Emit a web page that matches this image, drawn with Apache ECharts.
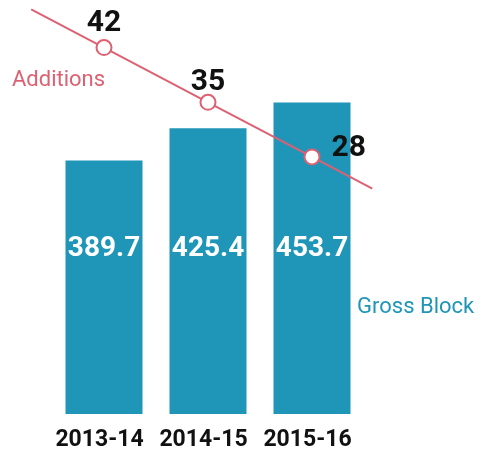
<!DOCTYPE html>
<html><head><meta charset="utf-8">
<script src="https://cdn.jsdelivr.net/npm/echarts@6/dist/echarts.min.js"></script>
<style>html,body{margin:0;padding:0;background:#fff}#c{width:480px;height:454px}</style>
</head><body><div id="c"></div>
<script>
const categories = ['2013-14', '2014-15', '2015-16'];
const grossBlock = [389.7, 425.4, 453.7];
const additions = [42, 35, 28];
const barName = 'Gross Block';
const lineName = 'Additions';

const BAR_COLOR = '#1f96b8';
const LINE_COLOR = '#dd6172';
const FONT = 'Roboto';

// extension of the additions line beyond first/last points (in category units)
const extLeft = 0.7, extRight = 0.58;
const n = additions.length;
const leftVal = additions[0] + (additions[0] - additions[1]) * extLeft;
const rightVal = additions[n - 1] + (additions[n - 1] - additions[n - 2]) * extRight;
const extData = [[-extLeft, leftVal], [0, additions[0]], '-', [n - 1, additions[n - 1]], [n - 1 + extRight, rightVal]];

const lineLabelCfg = [
  { position: 'top', distance: 1 },
  { position: 'top', distance: -4 },
  { position: 'right', distance: 11, offset: [0, -8] }
];

// bar grid: left 52, width 312 (3 bands of 104). line grid spans full width with matching index scale
const GL = 52, BAND = 104, W = 480;
const lineXMin = -0.5 - GL / BAND;
const lineXMax = lineXMin + W / BAND;

const chart = echarts.init(document.getElementById('c'));
chart.setOption({
  animation: false,
  grid: [
    { left: GL, width: BAND * n, top: 14, bottom: 40 },
    { left: 0, right: 0, top: 14, bottom: 40 }
  ],
  xAxis: [
    { type: 'category', gridIndex: 0, data: categories, axisLine: { show: false }, axisTick: { show: false },
      axisLabel: { interval: 0, color: '#111', fontFamily: FONT, fontWeight: 'bold', fontSize: 23, margin: 15,
        padding: [0, 9, 0, 0] } },
    { type: 'value', gridIndex: 1, min: lineXMin, max: lineXMax, show: false }
  ],
  yAxis: [
    { type: 'value', gridIndex: 0, min: 110, max: 551.5, show: false },
    { type: 'value', gridIndex: 1, min: -4.9, max: 46.3, show: false }
  ],
  series: [
    { name: barName, type: 'bar', data: grossBlock, barWidth: 77, itemStyle: { color: BAR_COLOR },
      label: { show: true, position: 'insideBottom', distance: 165, verticalAlign: 'middle',
        color: '#fff', fontFamily: FONT, fontWeight: 'bold', fontSize: 28 } },
    { name: lineName + ' ext', type: 'line', xAxisIndex: 1, yAxisIndex: 1, data: extData,
      symbol: 'none', clip: false, connectNulls: false, lineStyle: { color: LINE_COLOR, width: 2 }, z: 3 },
    { name: lineName, type: 'line', xAxisIndex: 1, yAxisIndex: 1, clip: false, z: 4,
      data: additions.map((v, i) => ({ value: [i, v], label: lineLabelCfg[i] })),
      symbol: 'circle', symbolSize: 15,
      itemStyle: { color: '#fff', borderColor: LINE_COLOR, borderWidth: 2 },
      lineStyle: { color: LINE_COLOR, width: 2 },
      label: { show: true, color: '#111', fontFamily: FONT, fontWeight: 'bold', fontSize: 30,
        formatter: p => p.value[1] } }
  ],
  graphic: [
    { type: 'text', left: 12, top: 69, style: { text: lineName, fill: LINE_COLOR, font: '22px Roboto' } },
    { type: 'text', left: 357, top: 296, style: { text: barName, fill: BAR_COLOR, font: '22px Roboto' } }
  ]
});
</script></body></html>
